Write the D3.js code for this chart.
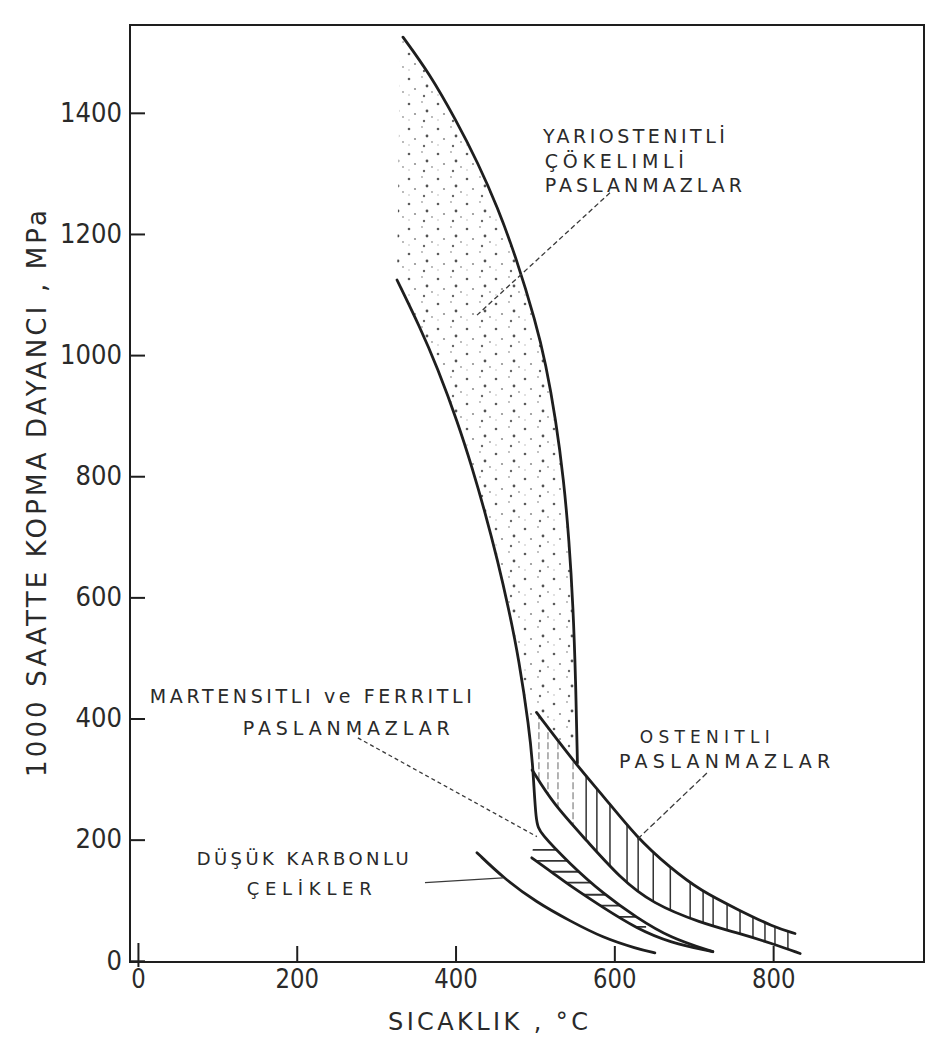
<!DOCTYPE html>
<html>
<head>
<meta charset="utf-8">
<script src="https://cdn.jsdelivr.net/npm/d3@7"></script>
<style>
  html, body { margin: 0; padding: 0; background: #ffffff; }
  svg { display: block; }
  text { font-family: "DejaVu Sans", "Liberation Sans", sans-serif; fill: #2a2a2a; }
</style>
</head>
<body>
<svg id="chart" width="927" height="1046"></svg>
<script>
// 1000-hour rupture strength (MPa) against temperature (°C) for steel families.
// Each band is given by its boundary curves as [temperature, strength] pairs.

// Precipitation-hardening semi-austenitic stainless: upper boundary
const precipUpper = [[333.8,1525],[366.6,1466],[400.6,1388],[428.3,1317],[452.8,1244.5],[476.1,1162],[501.3,1053],[513.4,987],[526.4,893],[536.2,794],[543,695],[548.1,584],[551.3,464],[553.5,326.5]];
// Precipitation-hardening lower boundary, continuing into the martensitic/ferritic upper curve
const martUpper = [[326.3,1124],[355.2,1046],[376.9,980],[403,888],[420.7,815],[437.5,739],[452.8,662],[467.3,579],[479.9,497],[492.5,386],[497.6,320],[501.1,227.5],[506.4,211],[544,160],[585.6,111],[628.5,71],[670,38],[724,15]];
// Martensitic and ferritic stainless: lower boundary
const martLower = [[496,170],[522.7,145],[544,124],[585.6,88],[628.5,53],[670,30],[724,15]];
// Austenitic stainless: upper and lower boundaries
const austUpper = [[502,410],[553,322],[585.6,273],[628.5,203],[670,154],[708,116],[758,83],[800,56],[827.5,45]];
const austLower = [[496.5,315],[522.7,259.5],[565.5,198],[607,137],[648.6,94],[708,63],[758,45],[800,28],[834,12]];
// Low-carbon steels
const lowCarbon = [[427,178.5],[460,137],[502.5,96],[544,66],[585.6,38],[628.5,20],[651,13]];

// Hatch positions: vertical lines across the austenitic band (°C), horizontal across the martensitic band (MPa)
const austHatchT = [505,516.4,529,548,564.5,578,594.5,616,630,649,670.5,695.5,711.8,724.4,742,758.3,774.6,789.7,802.3,818.6];
const martHatchS = [183,165,147,129,109,91,72.6,56];

// Axis ticks
const xTicks = [0,200,400,600,800];
const yTicks = [0,200,400,600,800,1000,1200,1400];

// Labels: [temperature, strength] of the text baseline start, with leader lines
const labels = [
  {t:510,   s:1350, text:"YARIOSTENITLİ", len:182, size:19},
  {t:512.5, s:1309, text:"ÇÖKELIMLİ", len:139, size:19},
  {t:512.5, s:1269, text:"PASLANMAZLAR", len:197, size:19},
  {t:15,    s:425,  text:"MARTENSITLI ve FERRITLI", len:322, size:19},
  {t:132,   s:372,  text:"PASLANMAZLAR", len:207, size:19},
  {t:74,    s:158,  text:"DÜŞÜK KARBONLU", len:212, size:18},
  {t:137,   s:109,  text:"ÇELİKLER", len:125, size:18},
  {t:632,   s:360,  text:"OSTENITLI", len:130, size:17},
  {t:606,   s:319,  text:"PASLANMAZLAR", len:211, size:19}
];
const leaders = [
  {from:[594.5,1268], to:[427,1066], dash:"5,3"},
  {from:[277,368],    to:[502.5,205], dash:"4,3"},
  {from:[361.5,129],  to:[459.7,137], dash:null},
  {from:[716.6,310],  to:[628.5,200], dash:"6,3"}
];

const svg = d3.select("#chart");
const x = d3.scaleLinear().domain([-10, 990]).range([130, 924]);
const y = d3.scaleLinear().domain([-2, 1545]).range([962, 25]);
const ink = "#1e1e1e";

const line = d3.line().x(d => x(d[0])).y(d => y(d[1])).curve(d3.curveBasis);
const join = (a, b) => a + "L" + b.slice(1);

const defs = svg.append("defs");

// Stipple texture for the semi-austenitic band
const pat = defs.append("pattern").attr("id", "stipple")
  .attr("patternUnits", "userSpaceOnUse").attr("width", 29).attr("height", 25);
[[3,4,1.3,0.8],[16,2,0.9,0.45],[21,11,1.4,0.85],[9,14,1.1,0.55],[18,21,1.2,0.75],[3,20,0.8,0.35],[26,17,0.9,0.5]]
  .forEach(d => pat.append("circle").attr("cx", d[0]).attr("cy", d[1]).attr("r", d[2])
    .attr("fill", "#333").attr("fill-opacity", d[3]));

// Semi-austenitic region: upper curve, back along the austenitic top, up the lower curve
const stipplePath = join(join(line(precipUpper), line([[553.5,326.5],[553,322],[502,410]])),
  line(martUpper.slice(0, 10).reverse())) + "L" + x(330) + "," + y(1488) + "Z";
svg.append("path").attr("d", stipplePath).attr("fill", "url(#stipple)").attr("stroke", "none");

// Austenitic band with vertical hatching
defs.append("clipPath").attr("id", "austClip").append("path")
  .attr("d", join(line(austUpper), line(austLower.slice().reverse())) + "Z");
svg.append("g").attr("clip-path", "url(#austClip)")
  .selectAll("line").data(austHatchT).join("line")
  .attr("x1", d => x(d)).attr("x2", d => x(d))
  .attr("y1", y(460)).attr("y2", y(0))
  .attr("stroke", d => d < 554 ? "#9a9a9a" : "#333")
  .attr("stroke-dasharray", d => d < 554 ? "7,3" : null)
  .attr("stroke-width", 1.5);

// Martensitic/ferritic band with horizontal hatching
defs.append("clipPath").attr("id", "martClip").append("path")
  .attr("d", join(line(martUpper.slice(11)), line(martLower.slice().reverse())) + "Z");
svg.append("g").attr("clip-path", "url(#martClip)")
  .selectAll("line").data(martHatchS).join("line")
  .attr("x1", x(470)).attr("x2", x(640))
  .attr("y1", d => y(d)).attr("y2", d => y(d))
  .attr("stroke", "#333").attr("stroke-width", 1.8);

// Boundary curves
const curves = [precipUpper, martUpper, martLower, austUpper, austLower, lowCarbon];
svg.append("g").selectAll("path").data(curves).join("path")
  .attr("d", line).attr("fill", "none").attr("stroke", ink)
  .attr("stroke-width", 2.8).attr("stroke-linecap", "round").attr("stroke-linejoin", "round");

// Leader lines
svg.append("g").selectAll("line").data(leaders).join("line")
  .attr("x1", d => x(d.from[0])).attr("y1", d => y(d.from[1]))
  .attr("x2", d => x(d.to[0])).attr("y2", d => y(d.to[1]))
  .attr("stroke", "#3a3a3a").attr("stroke-width", 1.3)
  .attr("stroke-dasharray", d => d.dash);

// Labels
svg.append("g").selectAll("text").data(labels).join("text")
  .attr("x", d => x(d.t)).attr("y", d => y(d.s))
  .attr("font-size", d => d.size)
  .attr("textLength", d => d.len).attr("lengthAdjust", "spacing")
  .text(d => d.text);

// Axes with inward ticks
const xAxis = svg.append("g").attr("transform", `translate(0,${y(-2)})`)
  .call(d3.axisBottom(x).tickValues(xTicks).tickFormat(d3.format("d"))
    .tickSizeInner(-16).tickSizeOuter(0).tickPadding(8));
const yAxis = svg.append("g").attr("transform", `translate(${x(-10)},0)`)
  .call(d3.axisLeft(y).tickValues(yTicks).tickFormat(d3.format("d"))
    .tickSizeInner(-15).tickSizeOuter(0).tickPadding(8));
[xAxis, yAxis].forEach(g => {
  g.select(".domain").remove();
  g.selectAll(".tick line").attr("stroke", ink).attr("stroke-width", 2);
  g.selectAll(".tick text").attr("font-size", 26).attr("fill", "#2a2a2a")
    .attr("font-family", "DejaVu Sans, sans-serif")
    .attr("lengthAdjust", "spacingAndGlyphs");
});
xAxis.selectAll(".tick text").attr("textLength", d => String(d).length * 14.5);
yAxis.selectAll(".tick text").attr("textLength", d => String(d).length * 15.5);
xAxis.selectAll(".tick").filter(d => d === 0).select("line").attr("y1", 5).attr("y2", -19);

// Plot frame
svg.append("rect")
  .attr("x", x(-10)).attr("y", y(1545))
  .attr("width", x(990) - x(-10)).attr("height", y(-2) - y(1545))
  .attr("fill", "none").attr("stroke", ink).attr("stroke-width", 2);

// Axis titles
svg.append("text").attr("x", 388).attr("y", 1030)
  .attr("font-size", 24).attr("textLength", 200).attr("lengthAdjust", "spacing")
  .text("SICAKLIK , °C");
svg.append("text").attr("transform", "translate(46,777) rotate(-90)")
  .attr("font-size", 26).attr("textLength", 567).attr("lengthAdjust", "spacing")
  .text("1000 SAATTE KOPMA DAYANCI , MPa");
</script>
</body>
</html>
